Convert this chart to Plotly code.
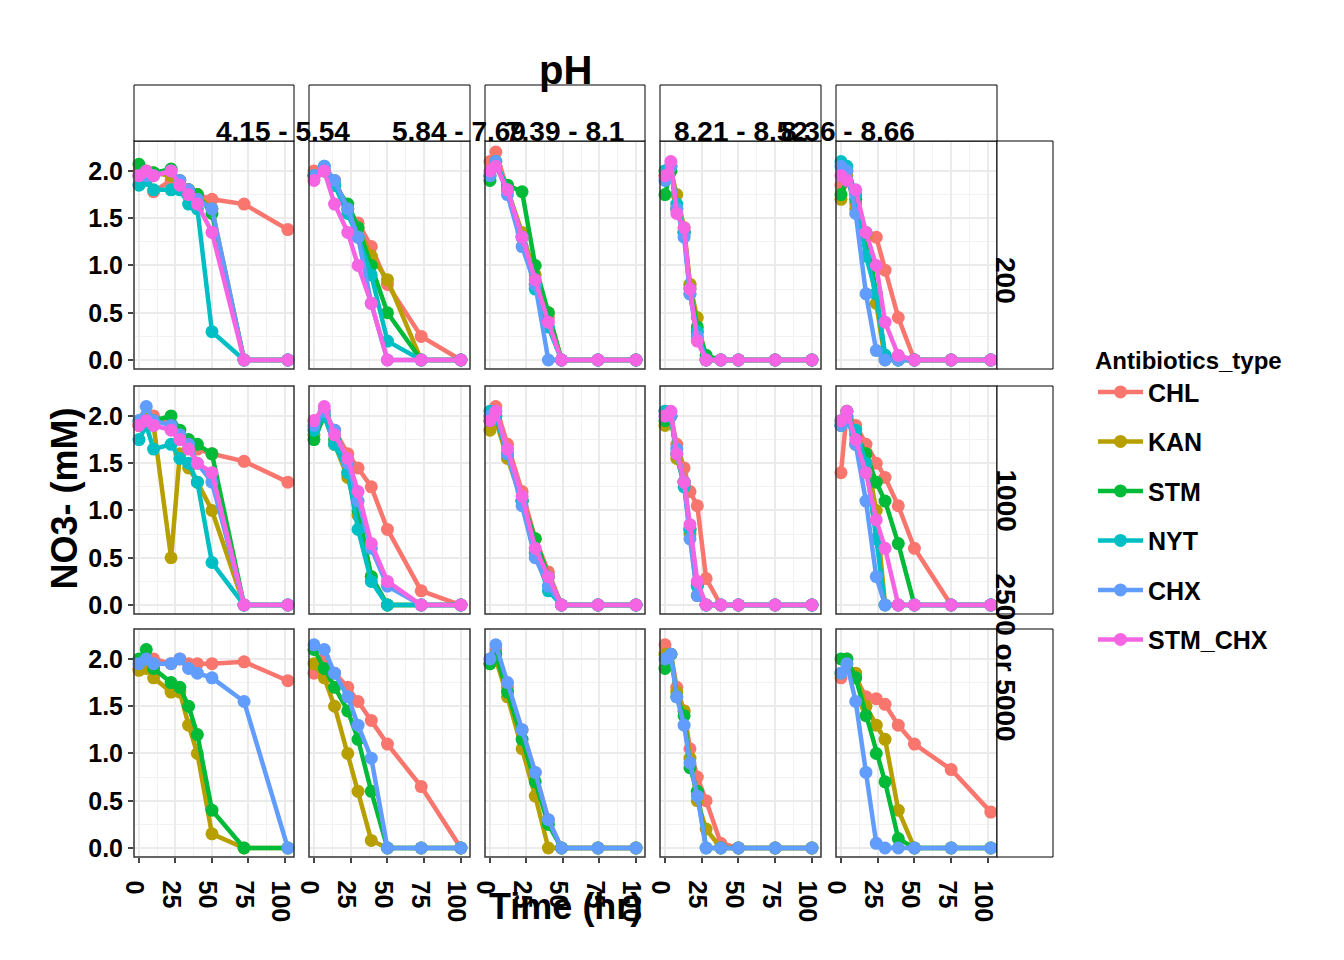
import plotly.graph_objects as go

W, H = 1344, 960

ph_labels = ["4.15 - 5.54", "5.84 - 7.69", "7.39 - 8.1", "8.21 - 8.52", "8.36 - 8.66"]
dose_labels = ["200", "1000", "2500 or 5000"]
series = ["CHL", "KAN", "STM", "NYT", "CHX", "STM_CHX"]
colors = ["#F8766D", "#B79F00", "#00BA38", "#00BFC4", "#619CFF", "#F564E3"]

# sampling times per pH column
times = [
    [0, 5, 10, 22, 28, 34, 40, 50, 72, 102],
    [0, 7, 14, 23, 30, 39, 50, 73, 100],
    [0, 4, 12, 22, 31, 40, 49, 74, 100],
    [0, 4, 8, 13, 17, 22, 28, 38, 50, 75, 100],
    [0, 4, 10, 17, 24, 30, 39, 50, 75, 102],
]

# NO3- values, row = dose, column = pH group
dose200 = [
    {"CHL": [2.0, 1.95, 1.78, 1.9, 1.85, 1.8, 1.75, 1.7, 1.65, 1.38],
     "KAN": [1.95, 2.0, 1.98, 1.95, 1.9, 1.8, 1.75, 1.6, 0, 0],
     "STM": [2.07, 1.95, 1.98, 2.02, 1.85, 1.8, 1.75, 1.55, 0, 0],
     "NYT": [1.85, 1.9, 1.8, 1.8, 1.8, 1.65, 1.6, 0.3, 0, 0],
     "CHX": [1.95, 1.95, 1.95, 2.0, 1.9, 1.8, 1.7, 1.6, 0, 0],
     "STM_CHX": [1.95, 2.0, 1.95, 2.0, 1.85, 1.75, 1.65, 1.35, 0, 0]},
    {"CHL": [2.0, 2.0, 1.85, 1.6, 1.45, 1.2, 0.8, 0.25, 0],
     "KAN": [1.95, 2.0, 1.9, 1.6, 1.4, 1.1, 0.85, 0, 0],
     "STM": [1.95, 2.0, 1.85, 1.65, 1.4, 1.0, 0.5, 0, 0],
     "NYT": [1.95, 2.05, 1.85, 1.55, 1.3, 0.9, 0.2, 0, 0],
     "CHX": [1.95, 2.05, 1.9, 1.6, 1.3, 0.6, 0, 0, 0],
     "STM_CHX": [1.9, 2.0, 1.65, 1.35, 1.0, 0.6, 0, 0, 0]},
    {"CHL": [2.1, 2.2, 1.8, 1.3, 0.8, 0.45, 0, 0, 0],
     "KAN": [1.95, 2.1, 1.8, 1.35, 0.9, 0.5, 0, 0, 0],
     "STM": [1.9, 2.05, 1.85, 1.78, 1.0, 0.5, 0, 0, 0],
     "NYT": [1.95, 2.1, 1.8, 1.3, 0.75, 0.35, 0, 0, 0],
     "CHX": [1.95, 2.1, 1.75, 1.2, 0.8, 0.0, 0, 0, 0],
     "STM_CHX": [2.0, 2.05, 1.8, 1.3, 0.85, 0.4, 0, 0, 0]},
    {"CHL": [2.0, 2.05, 1.6, 1.35, 0.8, 0.3, 0, 0, 0, 0, 0],
     "KAN": [1.95, 2.0, 1.75, 1.4, 0.8, 0.45, 0, 0, 0, 0, 0],
     "STM": [1.75, 2.0, 1.6, 1.35, 0.75, 0.35, 0.05, 0, 0, 0, 0],
     "NYT": [2.0, 2.05, 1.65, 1.35, 0.7, 0.3, 0, 0, 0, 0, 0],
     "CHX": [1.9, 2.05, 1.6, 1.3, 0.7, 0.25, 0, 0, 0, 0, 0],
     "STM_CHX": [1.95, 2.1, 1.55, 1.4, 0.75, 0.2, 0, 0, 0, 0, 0]},
    {"CHL": [1.85, 2.0, 1.65, 1.3, 1.3, 0.95, 0.45, 0, 0, 0],
     "KAN": [1.7, 1.95, 1.6, 1.3, 0.6, 0, 0, 0, 0, 0],
     "STM": [1.75, 1.9, 1.7, 1.35, 0.7, 0.05, 0, 0, 0, 0],
     "NYT": [2.1, 2.05, 1.75, 1.1, 0.7, 0.05, 0, 0, 0, 0],
     "CHX": [2.05, 2.0, 1.55, 0.7, 0.1, 0, 0, 0, 0, 0],
     "STM_CHX": [1.95, 1.9, 1.8, 1.35, 1.0, 0.4, 0.05, 0, 0, 0]},
]

dose1000 = [
    {"CHL": [1.9, 1.95, 2.0, 1.9, 1.8, 1.7, 1.65, 1.6, 1.52, 1.3],
     "KAN": [1.9, 2.0, 1.9, 0.5, 1.6, 1.45, 1.3, 1.0, 0, 0],
     "STM": [1.95, 1.95, 1.95, 2.0, 1.85, 1.75, 1.7, 1.6, 0, 0],
     "NYT": [1.75, 1.9, 1.65, 1.7, 1.55, 1.5, 1.3, 0.45, 0, 0],
     "CHX": [1.95, 2.1, 1.95, 1.9, 1.8, 1.7, 1.5, 1.3, 0, 0],
     "STM_CHX": [1.9, 1.95, 1.9, 1.85, 1.75, 1.65, 1.5, 1.4, 0, 0]},
    {"CHL": [1.95, 2.05, 1.85, 1.6, 1.45, 1.25, 0.8, 0.15, 0],
     "KAN": [1.8, 2.0, 1.7, 1.35, 0.95, 0.3, 0, 0, 0],
     "STM": [1.75, 2.0, 1.75, 1.4, 1.0, 0.3, 0, 0, 0],
     "NYT": [1.85, 2.0, 1.7, 1.4, 0.8, 0.25, 0, 0, 0],
     "CHX": [1.9, 2.05, 1.85, 1.5, 1.1, 0.6, 0.2, 0, 0],
     "STM_CHX": [1.95, 2.1, 1.8, 1.55, 1.2, 0.65, 0.25, 0, 0]},
    {"CHL": [2.0, 2.1, 1.7, 1.2, 0.7, 0.35, 0, 0, 0],
     "KAN": [1.85, 1.95, 1.55, 1.1, 0.7, 0.3, 0, 0, 0],
     "STM": [1.95, 2.0, 1.6, 1.1, 0.7, 0.3, 0, 0, 0],
     "NYT": [2.05, 2.0, 1.6, 1.1, 0.55, 0.15, 0, 0, 0],
     "CHX": [2.0, 2.05, 1.6, 1.05, 0.5, 0.2, 0, 0, 0],
     "STM_CHX": [1.95, 2.05, 1.65, 1.15, 0.6, 0.3, 0, 0, 0]},
    {"CHL": [2.05, 2.0, 1.7, 1.45, 1.2, 1.05, 0.28, 0, 0, 0, 0],
     "KAN": [1.9, 2.0, 1.55, 1.3, 0.75, 0.1, 0, 0, 0, 0, 0],
     "STM": [1.95, 2.0, 1.6, 1.3, 0.8, 0.2, 0, 0, 0, 0, 0],
     "NYT": [2.05, 2.0, 1.6, 1.25, 0.8, 0.2, 0, 0, 0, 0, 0],
     "CHX": [2.0, 2.0, 1.65, 1.3, 0.7, 0.1, 0, 0, 0, 0, 0],
     "STM_CHX": [2.0, 2.05, 1.6, 1.3, 0.85, 0.25, 0, 0, 0, 0, 0]},
    {"CHL": [1.4, 2.05, 1.9, 1.7, 1.5, 1.35, 1.05, 0.6, 0, 0],
     "KAN": [1.9, 2.0, 1.7, 1.6, 1.0, 0, 0, 0, 0, 0],
     "STM": [1.95, 2.05, 1.8, 1.6, 1.3, 1.1, 0.65, 0, 0, 0],
     "NYT": [1.9, 2.0, 1.85, 1.5, 0.7, 0, 0, 0, 0, 0],
     "CHX": [1.9, 2.0, 1.7, 1.1, 0.3, 0, 0, 0, 0, 0],
     "STM_CHX": [1.95, 2.05, 1.75, 1.4, 0.9, 0.6, 0, 0, 0, 0]},
]

dose_high = [
    {"CHL": [1.9, 1.95, 2.0, 1.95, 2.0, 1.95, 1.95, 1.95, 1.97, 1.77],
     "KAN": [1.88, 1.9, 1.8, 1.65, 1.65, 1.3, 1.0, 0.15, 0, 0],
     "STM": [2.0, 2.1, 1.9, 1.75, 1.7, 1.5, 1.2, 0.4, 0, 0],
     "CHX": [1.95, 2.0, 1.95, 1.95, 2.0, 1.9, 1.85, 1.8, 1.55, 0]},
    {"CHL": [1.85, 2.0, 1.85, 1.7, 1.55, 1.35, 1.1, 0.65, 0],
     "KAN": [1.95, 1.8, 1.5, 1.0, 0.6, 0.08, 0, 0, 0],
     "STM": [2.1, 1.9, 1.7, 1.45, 1.15, 0.6, 0, 0, 0],
     "CHX": [2.15, 2.1, 1.85, 1.6, 1.3, 0.95, 0, 0, 0]},
    {"CHL": [2.0, 2.1, 1.7, 1.25, 0.8, 0.3, 0, 0, 0],
     "KAN": [1.95, 2.0, 1.6, 1.05, 0.55, 0, 0, 0, 0],
     "STM": [1.95, 2.05, 1.65, 1.15, 0.7, 0.25, 0, 0, 0],
     "CHX": [2.0, 2.15, 1.75, 1.25, 0.8, 0.3, 0, 0, 0]},
    {"CHL": [2.15, 2.05, 1.7, 1.45, 1.05, 0.75, 0.5, 0.05, 0, 0, 0],
     "KAN": [2.05, 2.05, 1.65, 1.45, 0.95, 0.5, 0.2, 0, 0, 0, 0],
     "STM": [1.9, 2.05, 1.6, 1.4, 0.85, 0.6, 0, 0, 0, 0, 0],
     "CHX": [2.0, 2.05, 1.6, 1.3, 0.9, 0.55, 0, 0, 0, 0, 0]},
    {"CHL": [1.8, 2.0, 1.8, 1.6, 1.58, 1.52, 1.3, 1.1, 0.83, 0.38],
     "KAN": [1.85, 1.95, 1.85, 1.5, 1.3, 1.15, 0.4, 0, 0, 0],
     "STM": [2.0, 2.0, 1.8, 1.4, 1.0, 0.7, 0.1, 0, 0, 0],
     "CHX": [1.85, 1.95, 1.55, 0.8, 0.05, 0, 0, 0, 0, 0]},
]

data = [dose200, dose1000, dose_high]

# panel pixel boxes
col_px = [(126, 286), (301, 462), (477, 637), (652, 813), (828, 989)]
row_px = [(133, 361), (378, 606), (621, 849)]

def px(x):
    return x / W

def py(y):
    return 1 - y / H

fig = go.Figure()
font = dict(family="Liberation Sans", size=24, color="black", weight="bold")
tickfont = dict(family="Liberation Sans", size=25, color="black", weight="bold")

shapes = []
annotations = []
for r in range(3):
    for c in range(5):
        k = r * 5 + c + 1
        xa = "x" if k == 1 else f"x{k}"
        ya = "y" if k == 1 else f"y{k}"
        for s, col in zip(series, colors):
            if s not in data[r][c]:
                continue
            fig.add_trace(go.Scatter(
                x=times[c], y=data[r][c][s], mode="lines+markers",
                line=dict(color=col, width=4.5), marker=dict(color=col, size=13),
                name=s, legendgroup=s, showlegend=(k == 1),
                xaxis=xa, yaxis=ya, cliponaxis=False))
        x0, x1 = col_px[c]
        y0, y1 = row_px[r]
        fig.update_layout({
            ("xaxis" if k == 1 else f"xaxis{k}"): dict(
                domain=[px(x0), px(x1)], anchor=ya, range=[-3.4, 106.2],
                tickvals=[0, 25, 50, 75, 100], showticklabels=(r == 2),
                ticks="outside" if r == 2 else "", ticklen=5, tickwidth=2,
                gridcolor="#EBEBEB", gridwidth=1.5, zeroline=False,
                minor=dict(tickvals=[12.5, 37.5, 62.5, 87.5], showgrid=True,
                           gridcolor="#F2F2F2", gridwidth=1),
                showline=False, tickfont=tickfont, automargin=False),
            ("yaxis" if k == 1 else f"yaxis{k}"): dict(
                domain=[py(y1), py(y0)], anchor=xa, range=[-0.095, 2.317],
                tickvals=[0, 0.5, 1.0, 1.5, 2.0],
                ticktext=["0.0", "0.5", "1.0", "1.5", "2.0"],
                showticklabels=(c == 0), ticks="outside" if c == 0 else "",
                ticklen=5, tickwidth=2,
                gridcolor="#EBEBEB", gridwidth=1.5, zeroline=False,
                minor=dict(tickvals=[0.25, 0.75, 1.25, 1.75], showgrid=True,
                           gridcolor="#F2F2F2", gridwidth=1),
                showline=False, tickfont=tickfont, automargin=False),
        })
        shapes.append(dict(type="rect", xref="paper", yref="paper",
                           x0=px(x0), x1=px(x1), y0=py(y1), y1=py(y0),
                           line=dict(color="#333333", width=1.5), layer="above"))

# strips
for c, lab in enumerate(ph_labels):
    x0, x1 = col_px[c]
    shapes.append(dict(type="rect", xref="paper", yref="paper",
                       x0=px(x0), x1=px(x1), y0=py(133), y1=py(77),
                       line=dict(color="black", width=1), fillcolor="white"))
    annotations.append(dict(text=lab, xref="paper", yref="paper", x=px((x0 + x1) / 2),
                            y=py(106), showarrow=False, font=dict(font, size=28)))
for r, lab in enumerate(dose_labels):
    y0, y1 = row_px[r]
    shapes.append(dict(type="rect", xref="paper", yref="paper",
                       x0=px(989), x1=px(1045), y0=py(y1), y1=py(y0),
                       line=dict(color="black", width=1), fillcolor="white"))
    annotations.append(dict(text=lab, xref="paper", yref="paper", x=px(1015),
                            y=py((y0 + y1) / 2), showarrow=False, textangle=90,
                            font=dict(font, size=28)))

annotations += [
    dict(text="pH", xref="paper", yref="paper", x=px(557), y=py(38),
         showarrow=False, font=dict(font, size=40)),
    dict(text="Time (hr)", xref="paper", yref="paper", x=px(557), y=py(921),
         showarrow=False, font=dict(font, size=36)),
    dict(text="NO3- (mM)", xref="paper", yref="paper", x=px(33), y=py(491),
         showarrow=False, textangle=-90, font=dict(font, size=36)),
]

fig.update_layout(
    width=W, height=H, margin=dict(l=0, r=0, t=0, b=0, autoexpand=False),
    paper_bgcolor="white", plot_bgcolor="white",
    shapes=shapes, annotations=annotations,
    legend=dict(title=dict(text="Antibiotics_type", font=dict(font, size=24)),
                x=px(1085), y=py(330), xanchor="left", yanchor="top",
                font=dict(font, size=25), tracegroupgap=14, itemwidth=45),
)

fig.write_html("out.html")
